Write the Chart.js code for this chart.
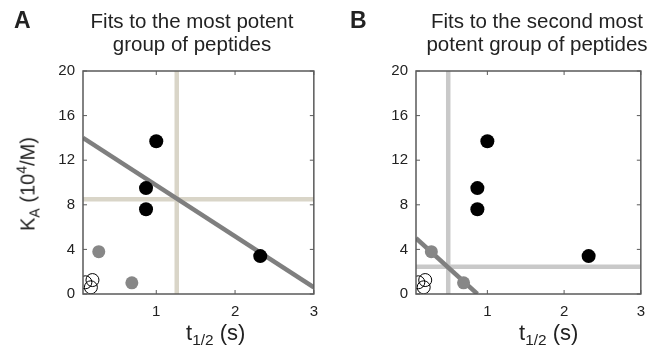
<!DOCTYPE html>
<html>
<head>
<meta charset="utf-8">
<script src="https://cdn.jsdelivr.net/npm/chart.js@4"></script>
<style>
  body { margin: 0; background: #fff; font-family: Arial, "Liberation Sans", sans-serif; color: #222; }
  #wrap { position: relative; width: 654px; height: 353px; overflow: hidden; }
  canvas { position: absolute; top: 0; }
  .lbl { position: absolute; white-space: nowrap; }
  .letter { font-size: 23px; font-weight: bold; top: 7px; }
  .title { font-size: 20.5px; line-height: 23px; text-align: center; width: 280px; top: 9px; }
  .xt { font-size: 22px; top: 320px; }
  .yt { font-size: 20px; transform: translate(-50%, -50%) rotate(-90deg); left: 28px; top: 184px; }
  sub, sup { font-size: 70%; line-height: 0; }
</style>
</head>
<body>
<div id="wrap">
  <canvas id="chartA" width="327" height="353" style="left:0"></canvas>
  <canvas id="chartB" width="327" height="353" style="left:327px"></canvas>

  <div class="lbl letter" style="left:14px">A</div>
  <div class="lbl title" style="left:52px">Fits to the most potent<br>group of peptides</div>
  <div class="lbl letter" style="left:350px">B</div>
  <div class="lbl title" style="left:397px">Fits to the second most<br>potent group of peptides</div>

  <div class="lbl yt">K<sub>A</sub> (10<sup>4</sup>/M)</div>
  <div class="lbl xt" style="left:186px">t<sub>1/2</sub> (s)</div>
  <div class="lbl xt" style="left:519px">t<sub>1/2</sub> (s)</div>
</div>
<script>
// data
const blackX = [1.0, 0.87, 0.87, 2.32];
const blackY = [13.7, 9.5, 7.6, 3.4];
const grayX = [0.27, 0.69];
const grayY = [3.8, 1.0];
const openX = [0.10, 0.19, 0.17];
const openY = [1.05, 1.25, 0.6];

// fit lines (end points in data units)
const fitAX = [0.07, 3.0];
const fitAY = [14.0, 0.6];
const fitBX = [0.07, 0.87];
const fitBY = [5.0, 0.0];

// crosshair guides
const guideA = {x: 1.26, y: 8.5};
const guideB = {x: 0.49, y: 2.45};

const xMin = 0.07, xMax = 3;
const xTicks = [1, 2, 3];
const yTicks = [0, 4, 8, 12, 16, 20];

const pts = (xs, ys) => xs.map((x, i) => ({x: x, y: ys[i]}));

// box + inward ticks on all four sides, MATLAB style
const boxPlugin = {
    id: 'box',
    afterDatasetsDraw(chart) {
        const a = chart.chartArea, c = chart.ctx;
        const sx = chart.scales.x, sy = chart.scales.y;
        c.save();
        c.strokeStyle = '#5a5a5a';
        c.lineWidth = 1.5;
        c.strokeRect(a.left, a.top, a.right - a.left, a.bottom - a.top);
        c.lineWidth = 1;
        c.beginPath();
        xTicks.forEach(v => {
            const px = sx.getPixelForValue(v);
            c.moveTo(px, a.bottom); c.lineTo(px, a.bottom - 4);
            c.moveTo(px, a.top); c.lineTo(px, a.top + 4);
        });
        yTicks.forEach(v => {
            const py = sy.getPixelForValue(v);
            c.moveTo(a.left, py); c.lineTo(a.left + 4, py);
            c.moveTo(a.right, py); c.lineTo(a.right - 4, py);
        });
        c.stroke();
        c.restore();
    }
};

function makeChart(id, fitX, fitY, guide, guideColor, leftW, rightPad) {
    const seg = (data, color, w) => ({
        type: 'line', data: data, borderColor: color, borderWidth: w,
        pointRadius: 0, fill: false, showLine: true
    });
    const tickFont = {size: 15, family: 'Arial, "Liberation Sans", sans-serif'};
    return new Chart(document.getElementById(id), {
        type: 'scatter',
        data: {
            datasets: [
                {data: pts(blackX, blackY), backgroundColor: '#000', borderColor: '#000', pointRadius: 7, borderWidth: 0},
                {data: pts(grayX, grayY), backgroundColor: '#878787', borderColor: '#878787', pointRadius: 6.5, borderWidth: 0},
                {data: pts(openX, openY), backgroundColor: 'rgba(0,0,0,0)', borderColor: '#000', pointRadius: 6.5, borderWidth: 1},
                seg(pts(fitX, fitY), '#7f7f7f', 4.5),
                seg([{x: guide.x, y: 0}, {x: guide.x, y: 20}], guideColor, 4.5),
                seg([{x: xMin, y: guide.y}, {x: xMax, y: guide.y}], guideColor, 4.5)
            ]
        },
        options: {
            responsive: false,
            animation: false,
            layout: {padding: {top: 71, right: rightPad, left: 0, bottom: 0}},
            plugins: {legend: {display: false}, tooltip: {enabled: false}},
            scales: {
                x: {
                    type: 'linear', min: xMin, max: xMax,
                    grid: {display: false, drawTicks: false}, border: {display: false},
                    afterBuildTicks: s => { s.ticks = xTicks.map(v => ({value: v})); },
                    afterFit: s => { s.height = 59; },
                    ticks: {color: '#222', padding: 9, font: tickFont}
                },
                y: {
                    type: 'linear', min: 0, max: 20,
                    grid: {display: false, drawTicks: false}, border: {display: false},
                    afterBuildTicks: s => { s.ticks = yTicks.map(v => ({value: v})); },
                    afterFit: s => { s.width = leftW; },
                    ticks: {color: '#222', padding: 8, font: tickFont}
                }
            }
        },
        plugins: [boxPlugin]
    });
}

makeChart('chartA', fitAX, fitAY, guideA, '#d9d5c8', 83, 11);
makeChart('chartB', fitBX, fitBY, guideB, '#c9c9c9', 89, 5);
</script>
</body>
</html>
